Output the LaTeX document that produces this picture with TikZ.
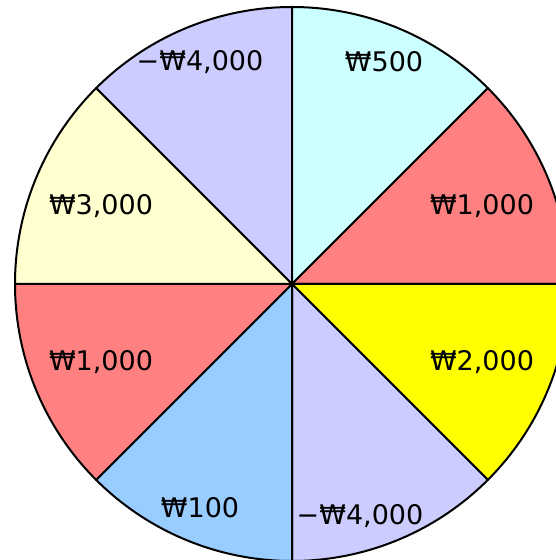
\documentclass[tikz,border=0pt]{standalone}
\usepackage{fontspec}
\setmainfont{DejaVu Sans}
\definecolor{lav}{HTML}{CCCCFF}
\definecolor{cyanl}{HTML}{CCFFFF}
\definecolor{salmon}{HTML}{FF8080}
\definecolor{yel}{HTML}{FFFF00}
\definecolor{blu}{HTML}{99CCFF}
\definecolor{lyel}{HTML}{FFFFD0}
\begin{document}
\begin{tikzpicture}[x=1pt,y=1pt,
  sector/.style={draw=black,line width=2pt,line join=round},
  lbl/.style={font=\fontsize{27}{29}\selectfont,inner sep=0pt}]
\useasboundingbox (0,0) rectangle (556,560);
\clip (0,0) rectangle (556,560);
\coordinate (c) at (292,276);
\def\R{277}
\foreach \a/\col in {90/lav,45/cyanl,0/salmon,-45/yel,-90/lav,-135/blu,180/salmon,135/lyel}{
  \filldraw[sector,fill=\col] (c) -- ++(\a+45:\R) arc[start angle=\a+45,end angle=\a,radius=\R] -- cycle;
}
\node[lbl] (t1) at (200,498) {−₩4,000};
\node[lbl] (t2) at (384,498) {₩500};
\node[lbl] (t3) at (482,354) {₩1,000};
\node[lbl] (t4) at (482,198) {₩2,000};
\node[lbl] (t5) at (360,44) {−₩4,000};
\node[lbl] (t6) at (200,52) {₩100};
\node[lbl] (t7) at (101,198) {₩1,000};
\node[lbl] (t8) at (101,354) {₩3,000};
\end{tikzpicture}
\end{document}
